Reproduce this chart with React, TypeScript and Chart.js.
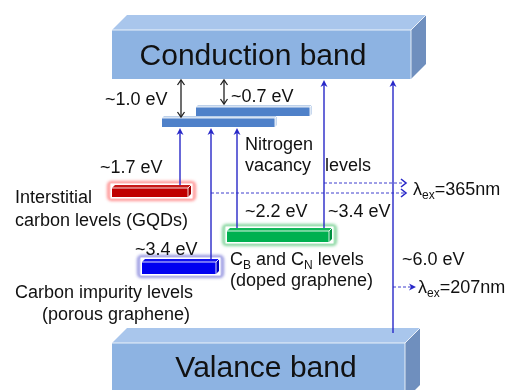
import React, { useEffect, useRef } from "react";
import { Chart, registerables } from "chart.js";

Chart.register(...registerables);

const FONT = '"Liberation Sans", Arial, Helvetica, sans-serif';

// ---- Diagram data (diagram units: x across, y downward) ----
const bandNames = ["Conduction band", "Valance band"];
const bandLeft = [112, 112];
const bandRight = [411, 405];
const bandTop = [30, 343];
const bandBottom = [79, 400];
const bandLabelX = [253, 266];
const bandLabelY = [65, 377];

const levelNames = [
  "Nitrogen vacancy (upper)",
  "Nitrogen vacancy (lower)",
  "Interstitial carbon (GQDs)",
  "CB and CN (doped graphene)",
  "Carbon impurity (porous graphene)",
];
const levelStart = [196, 162, 112, 227, 142];
const levelEnd = [310, 275, 188, 329, 216];
const levelTop = [107, 118, 188, 231, 262];
const levelBottom = [116, 127, 197, 242, 274];

const transitionX = [180, 211, 237, 324, 393];
const transitionFrom = [185, 259, 228, 228, 333];
const transitionTo = [128, 128, 128, 80, 80];

const gapX = [181, 224];
const gapTop = [80, 80];
const gapBottom = [117, 104];

const exciteStartX = [324, 211, 393];
const exciteEndX = [406, 406, 416];
const exciteY = [183, 193, 287];

const labelTexts = [
  "~1.0 eV",
  "~0.7 eV",
  "~1.7 eV",
  "Nitrogen",
  "vacancy",
  "levels",
  "Interstitial",
  "carbon levels (GQDs)",
  "~2.2 eV",
  "~3.4 eV",
  "~3.4 eV",
  "(doped graphene)",
  "Carbon impurity levels",
  "(porous graphene)",
  "~6.0 eV",
];
const labelX = [105, 231, 100, 245, 245, 325, 15, 15, 245, 328, 135, 230, 15, 42, 402];
const labelY = [105, 102, 173, 150, 171, 171, 203, 226, 217, 217, 255, 286, 298, 320, 265];

const richLabels: [string, boolean][][] = [
  [["C", false], ["B", true], [" and C", false], ["N", true], [" levels", false]],
  [["λ", false], ["ex", true], ["=365nm", false]],
  [["λ", false], ["ex", true], ["=207nm", false]],
];
const richX = [230, 413, 418];
const richY = [265, 195, 293];

// ---- styles ----
const levelStyle = [
  { front: "#4F81C9", top: "#BCD0EA", side: "#C8D8EE", depth: 2, glow: null, glowInner: null },
  { front: "#4F81C9", top: "#BCD0EA", side: "#C8D8EE", depth: 2, glow: null, glowInner: null },
  { front: "#C00000", top: "#C81818", side: "#A00000", depth: 3, glow: "rgba(255,120,120,0.8)", glowInner: "rgba(255,200,200,0.9)" },
  { front: "#00B050", top: "#10B858", side: "#009040", depth: 3, glow: "rgba(100,200,130,0.8)", glowInner: "rgba(190,238,205,0.9)" },
  { front: "#0000F0", top: "#1010F0", side: "#0000C0", depth: 3, glow: "rgba(120,120,215,0.8)", glowInner: "rgba(205,205,242,0.9)" },
];
const BLUE = "#2828C8";

function box3d(
  ctx: CanvasRenderingContext2D,
  x0: number, x1: number, yt: number, yb: number, d: number,
  front: string, top: string, side: string, edge: string
) {
  ctx.save();
  ctx.fillStyle = front;
  ctx.fillRect(x0, yt, x1 - x0, yb - yt);
  ctx.fillStyle = top;
  ctx.beginPath();
  ctx.moveTo(x0, yt);
  ctx.lineTo(x0 + d, yt - d);
  ctx.lineTo(x1 + d, yt - d);
  ctx.lineTo(x1, yt);
  ctx.closePath();
  ctx.fill();
  ctx.fillStyle = side;
  ctx.beginPath();
  ctx.moveTo(x1, yt);
  ctx.lineTo(x1 + d, yt - d);
  ctx.lineTo(x1 + d, yb - d);
  ctx.lineTo(x1, yb);
  ctx.closePath();
  ctx.fill();
  ctx.strokeStyle = edge;
  ctx.lineWidth = 1;
  ctx.beginPath();
  ctx.moveTo(x0, yt);
  ctx.lineTo(x1, yt);
  ctx.lineTo(x1 + d, yt - d);
  ctx.moveTo(x1, yt);
  ctx.lineTo(x1, yb);
  ctx.stroke();
  ctx.restore();
}

function roundRect(ctx: CanvasRenderingContext2D, x: number, y: number, w: number, h: number, r: number) {
  ctx.beginPath();
  ctx.moveTo(x + r, y);
  ctx.lineTo(x + w - r, y);
  ctx.quadraticCurveTo(x + w, y, x + w, y + r);
  ctx.lineTo(x + w, y + h - r);
  ctx.quadraticCurveTo(x + w, y + h, x + w - r, y + h);
  ctx.lineTo(x + r, y + h);
  ctx.quadraticCurveTo(x, y + h, x, y + h - r);
  ctx.lineTo(x, y + r);
  ctx.quadraticCurveTo(x, y, x + r, y);
  ctx.closePath();
}

function filledHead(ctx: CanvasRenderingContext2D, x: number, y: number, dir: "up" | "right", color: string) {
  const len = 7, half = 3.5;
  ctx.save();
  ctx.fillStyle = color;
  ctx.beginPath();
  if (dir === "up") {
    ctx.moveTo(x, y);
    ctx.lineTo(x - half, y + len);
    ctx.lineTo(x, y + len * 0.7);
    ctx.lineTo(x + half, y + len);
  } else {
    ctx.moveTo(x, y);
    ctx.lineTo(x - len, y - half);
    ctx.lineTo(x - len * 0.7, y);
    ctx.lineTo(x - len, y + half);
  }
  ctx.closePath();
  ctx.fill();
  ctx.restore();
}

function chevron(ctx: CanvasRenderingContext2D, x: number, y: number, dir: "up" | "down" | "right", color: string, lw: number) {
  ctx.save();
  ctx.strokeStyle = color;
  ctx.lineWidth = lw;
  ctx.beginPath();
  if (dir === "up") {
    ctx.moveTo(x - 3.5, y + 5);
    ctx.lineTo(x, y);
    ctx.lineTo(x + 3.5, y + 5);
  } else if (dir === "down") {
    ctx.moveTo(x - 3.5, y - 5);
    ctx.lineTo(x, y);
    ctx.lineTo(x + 3.5, y - 5);
  } else {
    ctx.moveTo(x - 5, y - 4);
    ctx.lineTo(x, y);
    ctx.lineTo(x - 5, y + 4);
  }
  ctx.stroke();
  ctx.restore();
}

const diagramPlugin = {
  id: "energyDiagram",
  beforeDraw(chart: any) {
    const ctx = chart.ctx as CanvasRenderingContext2D;
    ctx.save();
    ctx.fillStyle = "#ffffff";
    ctx.fillRect(0, 0, chart.width, chart.height);
    ctx.restore();
  },
  beforeDatasetsDraw(chart: any) {
    const ctx = chart.ctx as CanvasRenderingContext2D;
    const xs = chart.scales.x;
    const ys = chart.scales.y;
    const px = (v: number) => xs.getPixelForValue(v);
    const py = (v: number) => ys.getPixelForValue(v);

    // bands
    for (let i = 0; i < bandNames.length; i++) {
      const x0 = px(bandLeft[i]);
      const x1 = px(bandRight[i]);
      const yt = py(bandTop[i]);
      const yb = py(bandBottom[i]);
      box3d(ctx, x0, x1, yt, yb, 15, "#8DB3E2", "#A9C6EC", "#6F8FBE", "rgba(255,255,255,0.8)");
    }

    // levels
    for (let i = 0; i < levelNames.length; i++) {
      const s = levelStyle[i];
      const x0 = px(levelStart[i]);
      const x1 = px(levelEnd[i]);
      const yt = py(levelTop[i]);
      const yb = py(levelBottom[i]);
      const d = s.depth;
      if (s.glow) {
        ctx.save();
        ctx.filter = "blur(1.5px)";
        ctx.fillStyle = s.glow;
        roundRect(ctx, x0 - 5, yt - d - 4, x1 + d - x0 + 10, yb - yt + d + 8, 5);
        ctx.fill();
        ctx.restore();
        ctx.save();
        ctx.filter = "blur(0.8px)";
        ctx.fillStyle = s.glowInner as string;
        roundRect(ctx, x0 - 3, yt - d - 2, x1 + d - x0 + 6, yb - yt + d + 4, 3);
        ctx.fill();
        ctx.restore();
        ctx.save();
        ctx.fillStyle = "#ffffff";
        ctx.fillRect(x0 - 1.5, yt - d - 1.5, x1 + d - x0 + 3, yb - yt + d + 3);
        ctx.restore();
      }
      box3d(ctx, x0, x1, yt, yb, d, s.front, s.top, s.side, "rgba(255,255,255,0.85)");
    }
  },
  afterDatasetsDraw(chart: any) {
    const ctx = chart.ctx as CanvasRenderingContext2D;
    const xs = chart.scales.x;
    const ys = chart.scales.y;
    const px = (v: number) => xs.getPixelForValue(v);
    const py = (v: number) => ys.getPixelForValue(v);

    // transition heads
    for (let i = 0; i < transitionX.length; i++) {
      filledHead(ctx, px(transitionX[i]), py(transitionTo[i]), "up", BLUE);
    }
    // gap double arrows
    for (let i = 0; i < gapX.length; i++) {
      chevron(ctx, px(gapX[i]), py(gapTop[i]), "up", "#222222", 1.3);
      chevron(ctx, px(gapX[i]), py(gapBottom[i]), "down", "#222222", 1.3);
    }
    // excitation heads
    for (let i = 0; i < exciteY.length; i++) {
      if (i < 2) chevron(ctx, px(exciteEndX[i]), py(exciteY[i]), "right", BLUE, 1.6);
      else filledHead(ctx, px(exciteEndX[i]), py(exciteY[i]), "right", BLUE);
    }

    // labels
    ctx.save();
    ctx.fillStyle = "#111111";
    ctx.textBaseline = "alphabetic";
    ctx.textAlign = "center";
    ctx.font = `30px ${FONT}`;
    for (let i = 0; i < bandNames.length; i++) {
      ctx.fillText(bandNames[i], px(bandLabelX[i]), py(bandLabelY[i]));
    }
    ctx.textAlign = "left";
    ctx.font = `18px ${FONT}`;
    for (let i = 0; i < labelTexts.length; i++) {
      ctx.fillText(labelTexts[i], px(labelX[i]), py(labelY[i]));
    }
    for (let i = 0; i < richLabels.length; i++) {
      let x = px(richX[i]);
      const y = py(richY[i]);
      for (const [t, sub] of richLabels[i]) {
        ctx.font = sub ? `12px ${FONT}` : `18px ${FONT}`;
        ctx.fillText(t, x, sub ? y + 4 : y);
        x += ctx.measureText(t).width;
      }
    }
    ctx.restore();
  },
};

export default function App() {
  const canvasRef = useRef<HTMLCanvasElement | null>(null);

  useEffect(() => {
    const canvas = canvasRef.current;
    if (!canvas) return;

    const datasets: any[] = [];
    for (let i = 0; i < transitionX.length; i++) {
      datasets.push({
        label: "transition " + (i + 1),
        data: [
          { x: transitionX[i], y: transitionFrom[i] },
          { x: transitionX[i], y: transitionTo[i] + 3 },
        ],
        showLine: true,
        borderColor: BLUE,
        borderWidth: 1.4,
        pointRadius: 0,
      });
    }
    for (let i = 0; i < gapX.length; i++) {
      datasets.push({
        label: "gap " + (i + 1),
        data: [
          { x: gapX[i], y: gapTop[i] },
          { x: gapX[i], y: gapBottom[i] },
        ],
        showLine: true,
        borderColor: "#222222",
        borderWidth: 1.3,
        pointRadius: 0,
      });
    }
    for (let i = 0; i < exciteY.length; i++) {
      datasets.push({
        label: "excitation " + (i + 1),
        data: [
          { x: exciteStartX[i], y: exciteY[i] },
          { x: exciteEndX[i] - 2, y: exciteY[i] },
        ],
        showLine: true,
        borderColor: BLUE,
        borderWidth: 0.9,
        borderDash: [3, 2],
        pointRadius: 0,
      });
    }

    const chart = new Chart(canvas, {
      type: "scatter",
      data: { datasets },
      options: {
        responsive: false,
        maintainAspectRatio: false,
        animation: false,
        events: [],
        layout: { padding: 0 },
        plugins: { legend: { display: false }, tooltip: { enabled: false } },
        scales: {
          x: { type: "linear", min: 0, max: 505, display: false },
          y: { type: "linear", min: 0, max: 390, reverse: true, display: false },
        },
      },
      plugins: [diagramPlugin],
    });
    return () => chart.destroy();
  }, []);

  return (
    <div style={{ position: "absolute", left: 0, top: 0, width: 505, height: 390, background: "#fff" }}>
      <canvas ref={canvasRef} width={505} height={390} style={{ display: "block" }} />
    </div>
  );
}
